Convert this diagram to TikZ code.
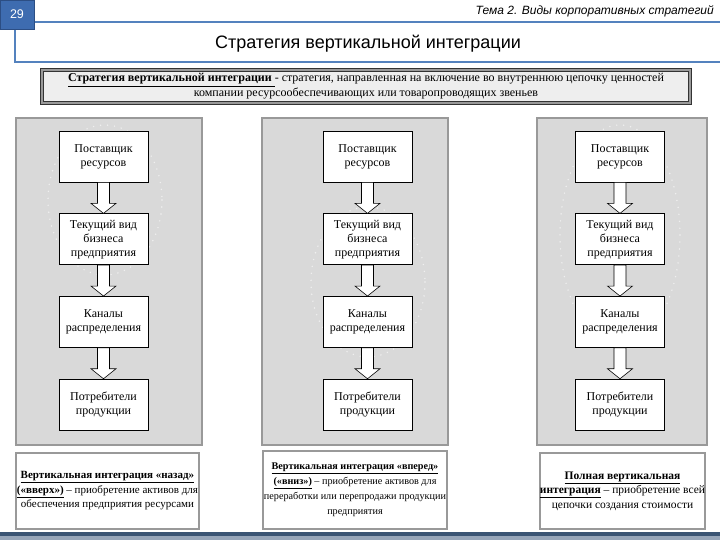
\documentclass[tikz,border=0pt]{standalone}
\usepackage{fontspec}
\setmainfont{Liberation Serif}
\newfontfamily\arialfont{Liberation Sans}
\usetikzlibrary{positioning,chains,calc}

\definecolor{numblue}{RGB}{62,108,176}
\definecolor{numbluedark}{RGB}{44,78,132}
\definecolor{frameblue}{RGB}{84,130,190}
\definecolor{panelgray}{RGB}{217,217,217}
\definecolor{defgray}{RGB}{238,238,238}
\definecolor{barblue}{RGB}{58,84,116}
\definecolor{barlight}{RGB}{150,165,185}

\begin{document}
\begin{tikzpicture}[x=1pt,y=-1pt,
	every node/.style={inner sep=0pt},
	chainnode/.style={draw,fill=white,line width=0.7pt,minimum width=89pt,minimum height=51pt,align=center,font=\fontsize{12}{14}\selectfont},
	panelnode/.style={draw=black!80,double=black!40,double distance=1.2pt,line width=0.8pt,fill=panelgray},
	notenode/.style={draw=black!85,double=black!40,double distance=1.2pt,line width=0.8pt,fill=white,align=center},
	barrow/.style={draw,fill=white,line width=0.6pt},
	ring/.style={white,opacity=0.6,line width=1.6pt,line cap=round,dash pattern=on 0pt off 7pt}
	]
	\useasboundingbox (0,0) rectangle (720,540);
	
	% the slide head
	\node[draw=frameblue,line width=1.6pt,minimum width=710pt,minimum height=40pt] (titlebox) at (370,42) {};
	\node[font=\arialfont\fontsize{18}{20}\selectfont] (title) at (368,44) {Стратегия вертикальной интеграции};
	\node[fill=numblue,draw=numbluedark,line width=0.8pt,minimum width=34pt,minimum height=29pt,text=white,font=\arialfont\fontsize{12.5}{13}\selectfont] (num) at (17,14.5) {29};
	\node[anchor=east,font=\arialfont\itshape\fontsize{12}{14}\selectfont] (topic) at (714,11) {Тема 2. Виды корпоративных стратегий};
	
	% the definition
	\node[draw=black!80,double=black!40,double distance=1.4pt,line width=0.9pt,fill=defgray,minimum width=648pt,minimum height=33pt,align=center,font=\fontsize{12}{15}\selectfont] (def) at (366,86.5)
	{\underline{\textbf{Стратегия вертикальной интеграции }}- стратегия, направленная на включение во внутреннюю цепочку ценностей\\
	компании ресурсообеспечивающих или товаропроводящих звеньев};
	
	% the panels
	\node[panelnode,minimum width=186pt,minimum height=327pt] (lp) at (109,281.5) {};
	\node[panelnode,minimum width=186pt,minimum height=327pt] (mp) at (355,281.5) {};
	\node[panelnode,minimum width=170pt,minimum height=327pt] (rp) at (622,281.5) {};
	
	% the faint rings behind
	\draw[ring] (105,200) ellipse [x radius=57,y radius=75];
	\draw[ring] (368,282) ellipse [x radius=57,y radius=75];
	\draw[ring] (620,235) ellipse [x radius=60,y radius=110];
	
	% the chain on the left
	\begin{scope}[start chain=going below,node distance=31pt]
	\node[chainnode,on chain] (l1) at (103.5,156.5) {Поставщик\\ресурсов};
	\node[chainnode,on chain] (l2) {Текущий вид\\бизнеса\\предприятия};
	\node[chainnode,on chain] (l3) {Каналы\\распределения};
	\node[chainnode,on chain] (l4) {Потребители\\продукции};
	\end{scope}
	
	% the chain in the middle
	\begin{scope}[start chain=going below,node distance=31pt]
	\node[chainnode,on chain] (m1) at (367.5,156.5) {Поставщик\\ресурсов};
	\node[chainnode,on chain] (m2) {Текущий вид\\бизнеса\\предприятия};
	\node[chainnode,on chain] (m3) {Каналы\\распределения};
	\node[chainnode,on chain] (m4) {Потребители\\продукции};
	\end{scope}
	
	% the chain on the right
	\begin{scope}[start chain=going below,node distance=31pt]
	\node[chainnode,on chain] (r1) at (620,156.5) {Поставщик\\ресурсов};
	\node[chainnode,on chain] (r2) {Текущий вид\\бизнеса\\предприятия};
	\node[chainnode,on chain] (r3) {Каналы\\распределения};
	\node[chainnode,on chain] (r4) {Потребители\\продукции};
	\end{scope}
	
	% the block arrows
	\foreach \c in {l,m,r}
	\foreach \a/\b in {1/2,2/3,3/4}
	\draw[barrow] ($(\c\a.south)+(-6,0)$) -- ($(\c\b.north)+(-6,-10)$) -- ($(\c\b.north)+(-12.5,-10)$) -- (\c\b.north)
	-- ($(\c\b.north)+(12.5,-10)$) -- ($(\c\b.north)+(6,-10)$) -- ($(\c\a.south)+(6,0)$) -- cycle;
	
	% the notes below
	\node[notenode,minimum width=183pt,minimum height=76pt,font=\fontsize{11}{14.5}\selectfont] (ln) at (107.5,491) {\underline{\textbf{Вертикальная интеграция «назад»}}\\
	\underline{\textbf{(«вверх»)}} – приобретение активов для\\
	обеспечения предприятия ресурсами};
	\node[notenode,minimum width=184pt,minimum height=78pt,font=\fontsize{10.2}{15}\selectfont] (mn) at (355,490) {\underline{\textbf{Вертикальная интеграция «вперед»}}\\
	\underline{\textbf{(«вниз»)}} – приобретение активов для\\
	переработки или перепродажи продукции\\
	предприятия};
	\node[notenode,minimum width=165pt,minimum height=76pt,font=\fontsize{11.5}{14.5}\selectfont] (rn) at (622.5,491) {\underline{\textbf{Полная вертикальная}}\\
	\underline{\textbf{интеграция}} – приобретение всей\\
	цепочки создания стоимости};
	
	% the bar at the foot
	\fill[barlight] (0,535.5) rectangle (720,540);
	\fill[barblue] (0,532) rectangle (720,535.5);
\end{tikzpicture}
\end{document}
